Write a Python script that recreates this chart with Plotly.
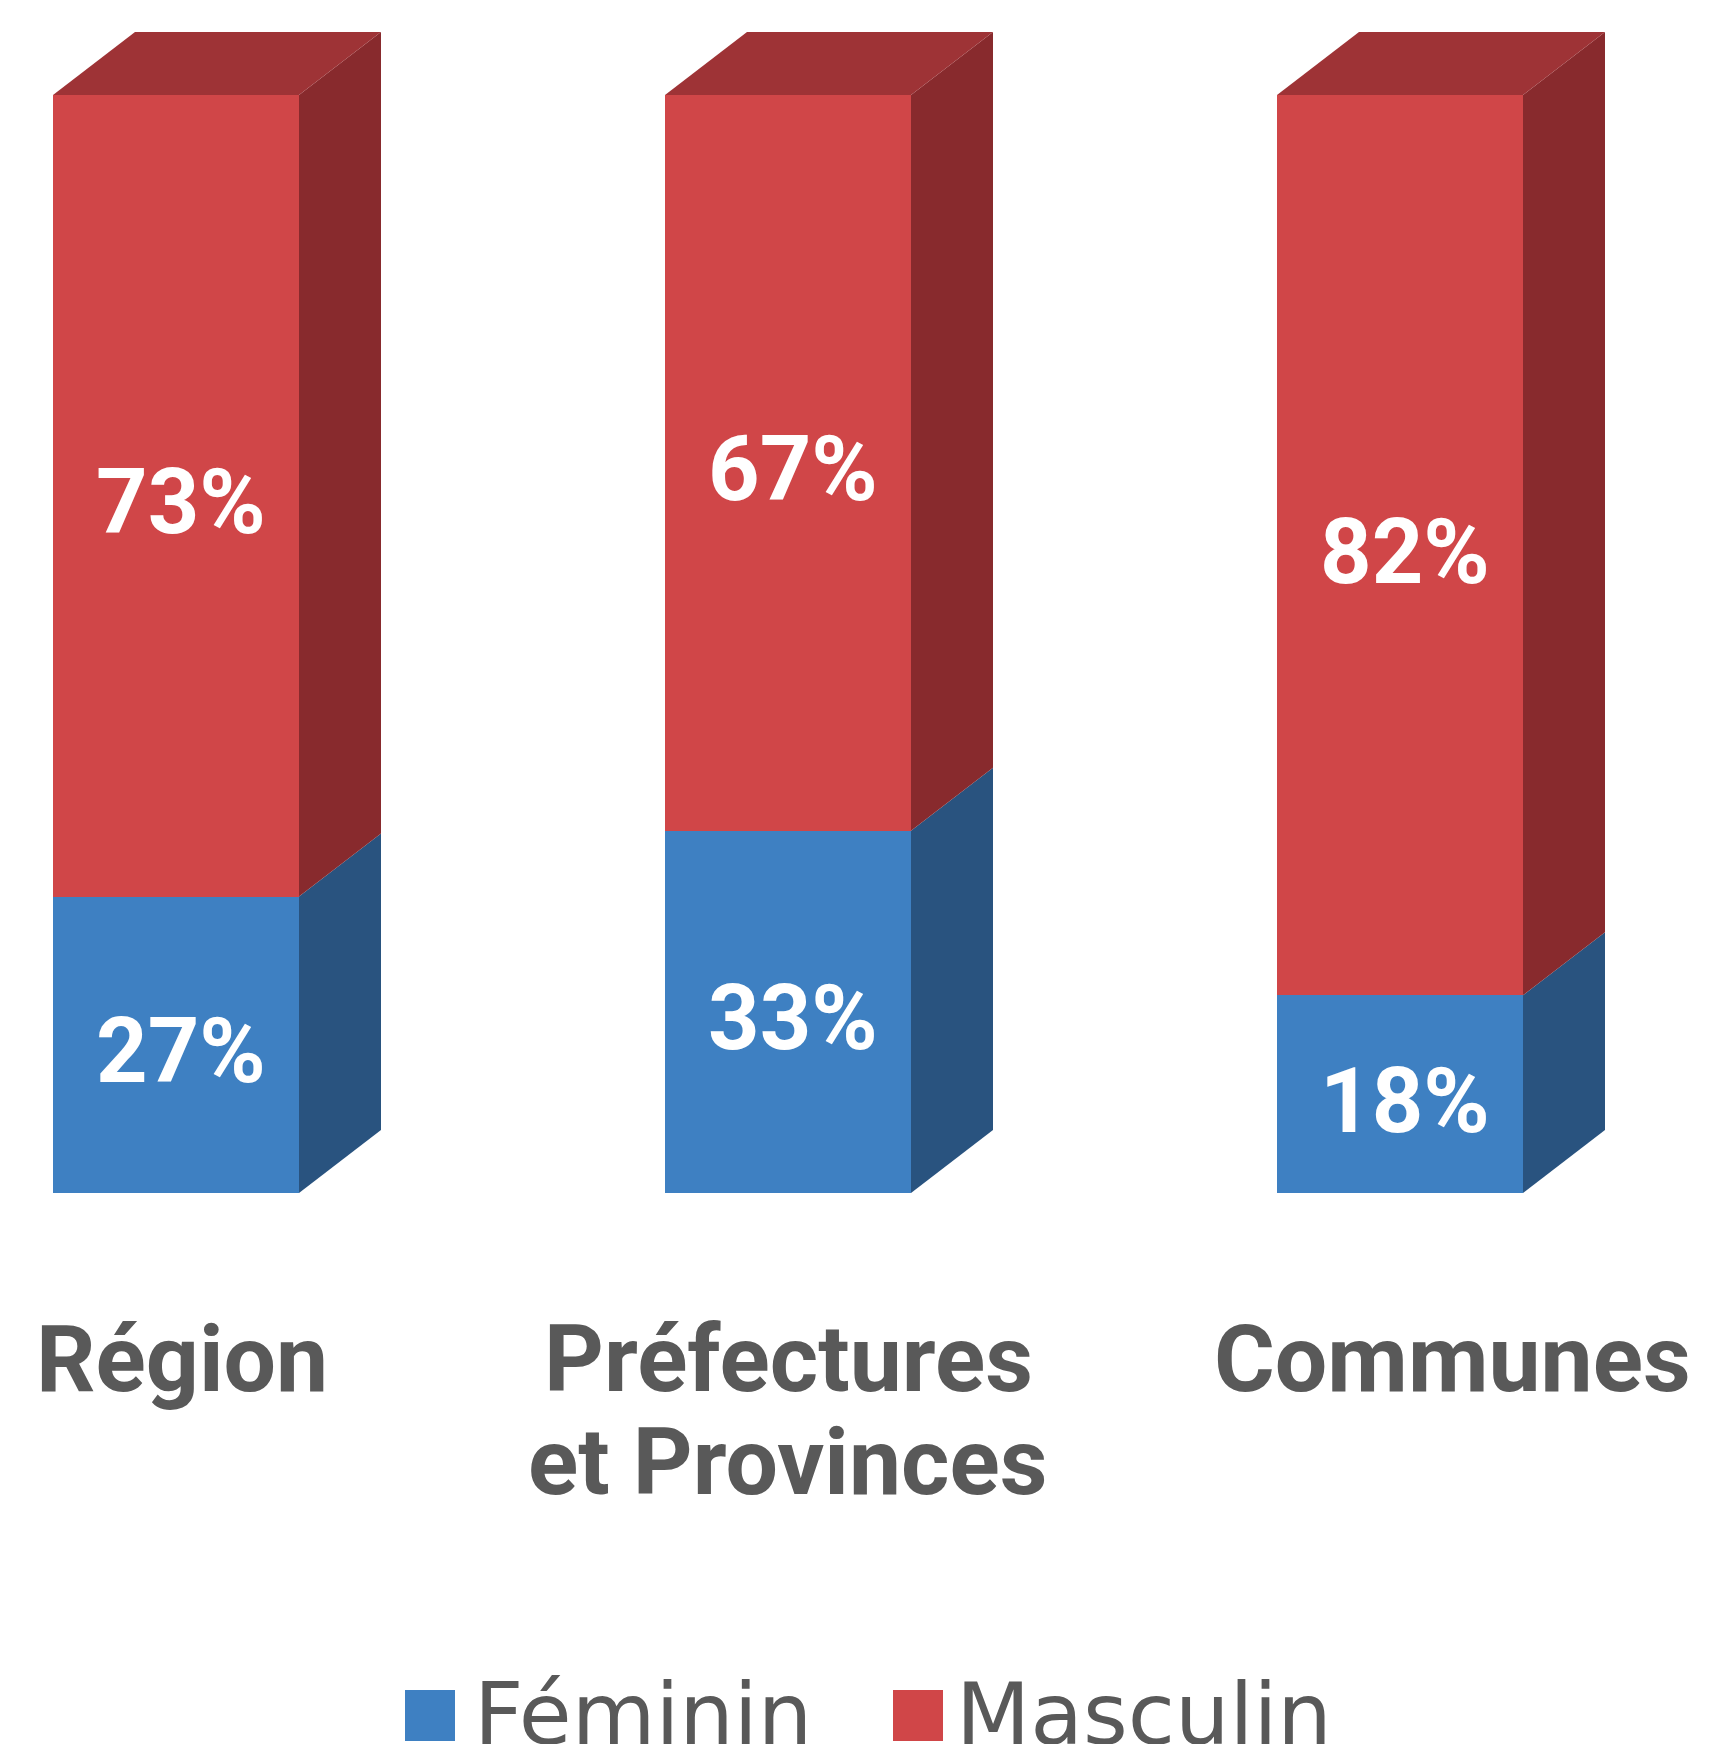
import plotly.graph_objects as go

# ---- data ----
categories = ["Région", "Préfectures<br>et Provinces", "Communes"]
feminin = [27, 33, 18]
masculin = [73, 67, 82]
series_names = ["Féminin", "Masculin"]

# ---- style ----
# the page body has an 8px margin, so the figure is drawn 8px in from the corner
OFF = 8
W, H = 1721 - 2 * OFF, 1752 - 2 * OFF
FRONT = {"Féminin": "#3E80C2", "Masculin": "#D04648"}
SIDE = {"Féminin": "#29537F", "Masculin": "#882A2D"}
TOP = "#9E3336"
GRAY = "#595959"

PX_X = 612.0      # pixels per category unit
PX_Y = 10.98      # pixels per percent
X0_PX = 176.0 - OFF   # pixel of first category centre
PLOT_TOP, PLOT_BOT = 20 - OFF, 1193 - OFF
BAR_W = 246 / PX_X
DX = 82 / PX_X
DY = 63 / PX_Y

xs = list(range(len(categories)))

fig = go.Figure()

for name, vals in zip(series_names, [feminin, masculin]):
    fig.add_trace(go.Bar(
        x=xs, y=vals, name=name, width=BAR_W,
        marker=dict(color=FRONT[name], line=dict(width=0)),
        showlegend=False, hoverinfo="skip",
    ))

# side faces and top face (3D look), derived from the stacked values
for i, x in enumerate(xs):
    xr = x + BAR_W / 2
    xl = x - BAR_W / 2
    base = 0
    for name, vals in zip(series_names, [feminin, masculin]):
        top = base + vals[i]
        fig.add_trace(go.Scatter(
            x=[xr, xr + DX, xr + DX, xr, xr],
            y=[base, base + DY, top + DY, top, base],
            fill="toself", fillcolor=SIDE[name], mode="lines",
            line=dict(width=0, color=SIDE[name]),
            showlegend=False, hoverinfo="skip",
        ))
        # value label in the middle of the segment
        fig.add_annotation(
            x=x, y=base + vals[i] / 2, xref="x", yref="y",
            text=f"{vals[i]}%", showarrow=False,
            xanchor="center", yanchor="middle", xshift=5, yshift=-7,
            font=dict(family="Roboto", size=90, color="white", weight="bold"),
        )
        base = top
    fig.add_trace(go.Scatter(
        x=[xl, xl + DX, xr + DX, xr, xl],
        y=[base, base + DY, base + DY, base, base],
        fill="toself", fillcolor=TOP, mode="lines",
        line=dict(width=0, color=TOP),
        showlegend=False, hoverinfo="skip",
    ))

# category labels
LABEL_XSHIFT = [6, 0, 52]
for i, (x, cat) in enumerate(zip(xs, categories)):
    for k, line in enumerate(cat.split("<br>")):
        fig.add_annotation(
            x=x, y=0, xref="x", yref="y", text=line, showarrow=False,
            xanchor="center", yanchor="middle",
            xshift=LABEL_XSHIFT[i], yshift=-166 - 103 * k,
            font=dict(family="Roboto", size=93, color=GRAY, weight="bold"),
        )

# legend (drawn manually to get large swatches)
plot_h = PLOT_BOT - PLOT_TOP
def py(p):
    return (PLOT_BOT - (p - OFF)) / plot_h
def px(p):
    return (p - OFF) / W
legend_items = [("Féminin", 405, 455, 472), ("Masculin", 893, 943, 954)]
for name, sx0, sx1, tx in legend_items:
    fig.add_shape(type="rect", xref="paper", yref="paper",
                  x0=px(sx0), x1=px(sx1), y0=py(1741), y1=py(1690),
                  fillcolor=FRONT[name], line=dict(width=0))
    fig.add_annotation(x=px(tx), y=py(1714), xref="paper", yref="paper",
                       text=name, showarrow=False, xanchor="left", yanchor="middle",
                       font=dict(family="DejaVu Sans", size=86, color=GRAY))

fig.update_layout(
    width=W, height=H, barmode="stack",
    margin=dict(l=0, r=0, t=PLOT_TOP, b=H - PLOT_BOT, pad=0),
    paper_bgcolor="white", plot_bgcolor="white",
    xaxis=dict(range=[-X0_PX / PX_X, (W - X0_PX) / PX_X], visible=False, fixedrange=True),
    yaxis=dict(range=[0, plot_h / PX_Y], visible=False, fixedrange=True),
    showlegend=False,
)

fig.write_html("out.html")
